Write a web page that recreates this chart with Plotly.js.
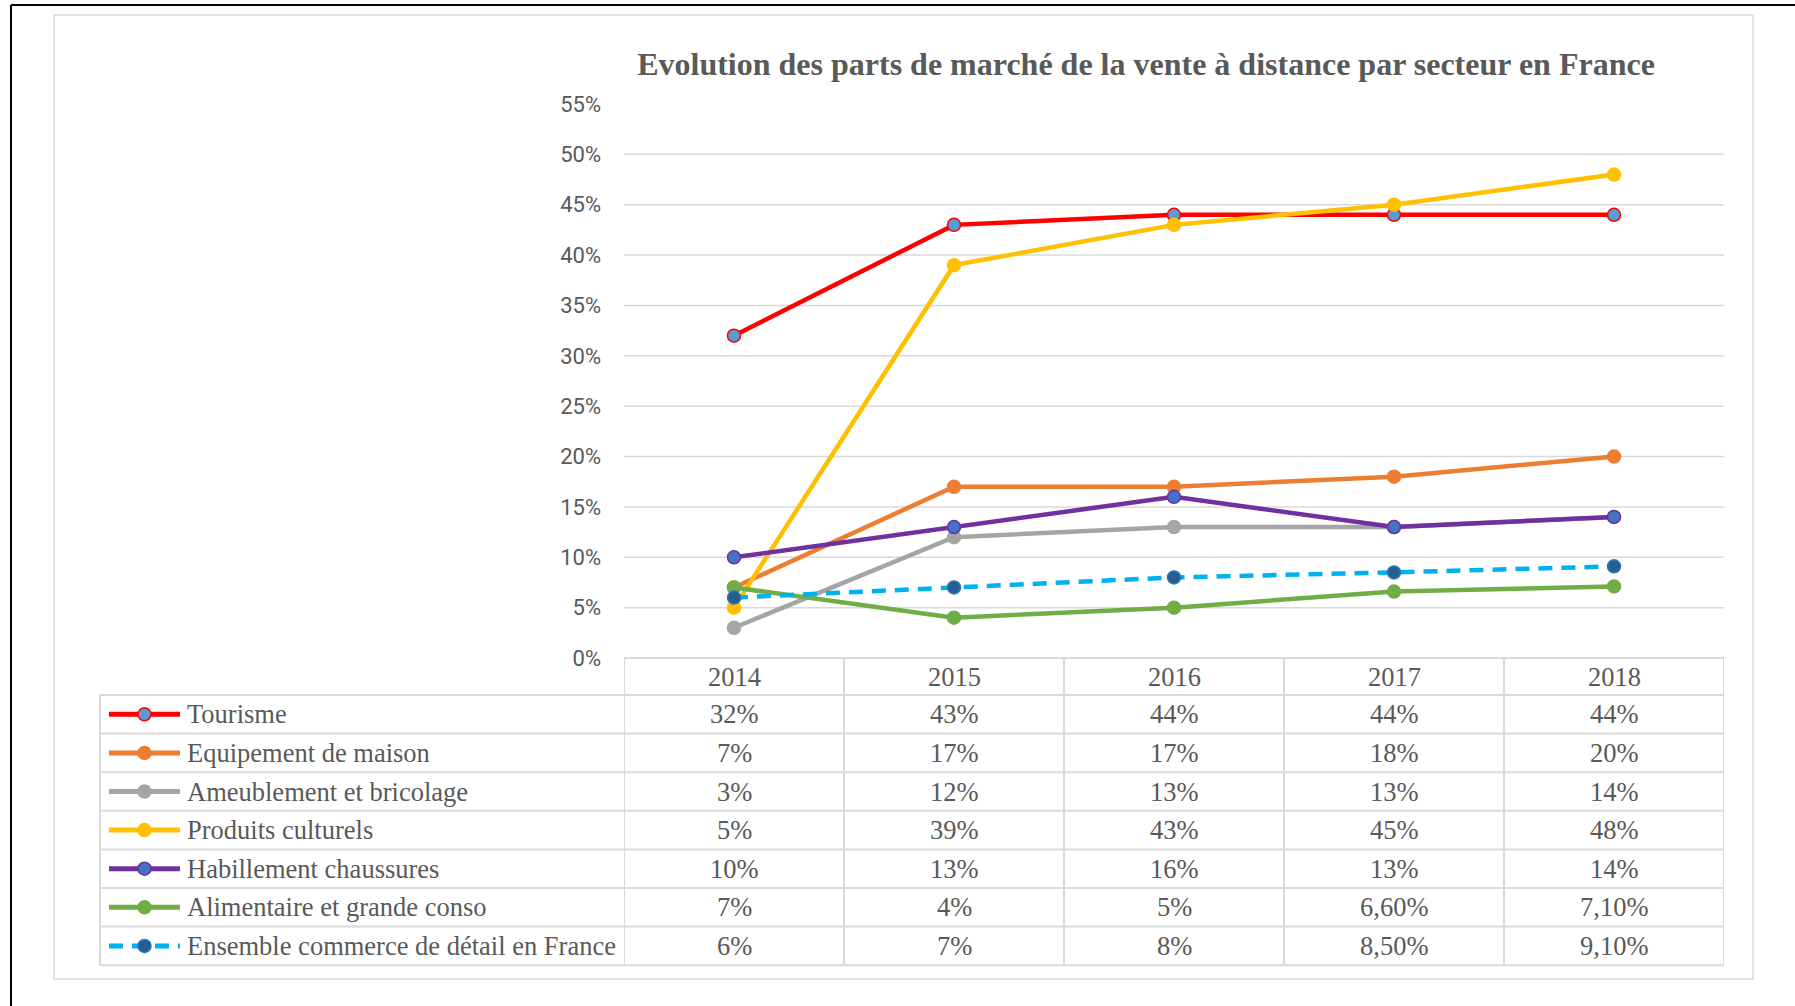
<!DOCTYPE html>
<html><head><meta charset="utf-8">
<script src="https://cdn.plot.ly/plotly-3.0.1.min.js"></script>
<style>html,body{margin:0;padding:0;background:#fff;} #chart{width:1795px;height:1006px;}</style>
</head><body><div id="chart"></div>
<script>
// ---------- data ----------
const years = ['2014', '2015', '2016', '2017', '2018'];
const seriesNames = [
  'Tourisme',
  'Equipement de maison',
  'Ameublement et bricolage',
  'Produits culturels',
  'Habillement chaussures',
  'Alimentaire et grande conso',
  'Ensemble commerce de détail en France'
];
const tourisme    = [32, 43, 44, 44, 44];
const equipement  = [7, 17, 17, 18, 20];
const ameublement = [3, 12, 13, 13, 14];
const produits    = [5, 39, 43, 45, 48];
const habillement = [10, 13, 16, 13, 14];
const alimentaire = [7, 4, 5, 6.6, 7.1];
const ensemble    = [6, 7, 8, 8.5, 9.1];
const yTickValues = [0, 5, 10, 15, 20, 25, 30, 35, 40, 45, 50, 55];
const yTickLabels = ['0%', '5%', '10%', '15%', '20%', '25%', '30%', '35%', '40%', '45%', '50%', '55%'];
const gridValues  = [5, 10, 15, 20, 25, 30, 35, 40, 45, 50];
const chartTitle = 'Evolution des parts de marché de la vente à distance par secteur en France';

// ---------- styling ----------
const W = 1795, H = 1006;
const px = x => x / W;
const py = y => 1 - y / H;
const seriesValues = [tourisme, equipement, ameublement, produits, habillement, alimentaire, ensemble];
const styles = [
  {line: '#FF0000', fill: '#5B9BD5', border: '#FF0000', dash: 'solid'},
  {line: '#ED7D31', fill: '#ED7D31', border: '#ED7D31', dash: 'solid'},
  {line: '#A5A5A5', fill: '#A5A5A5', border: '#A5A5A5', dash: 'solid'},
  {line: '#FFC000', fill: '#FFC000', border: '#FFC000', dash: 'solid'},
  {line: '#7030A0', fill: '#4472C4', border: '#7030A0', dash: 'solid'},
  {line: '#70AD47', fill: '#70AD47', border: '#70AD47', dash: 'solid'},
  {line: '#00B0F0', fill: '#255E91', border: '#2E75B6', dash: '14px,9px'}
];
const textColor = '#595959';
const gridColor = '#D9D9D9';
const serif = 'Liberation Serif, Times New Roman, serif';
const cellFont = {family: serif, size: 26.5, color: textColor};

// plot geometry (pixels)
const plotL = 624, plotR = 1724, plotTop = 104, plotBottom = 658;
const tableTop = 695, rowH = 38.6, tableLeft = 100;
const tableBottom = tableTop + rowH * seriesNames.length;

const fmt = v => Number.isInteger(v) ? v + '%' : v.toFixed(2).replace('.', ',') + '%';

const traces = [];
seriesValues.forEach((vals, i) => {
  const s = styles[i];
  traces.push({
    type: 'scatter', mode: 'lines+markers', name: seriesNames[i],
    x: years, y: vals, xaxis: 'x', yaxis: 'y',
    line: {color: s.line, width: 4.5, dash: s.dash},
    marker: {size: 13, color: s.fill, line: {color: s.border, width: 1.5}},
    cliponaxis: false, hoverinfo: 'skip', showlegend: false
  });
});
// legend keys inside the data table
seriesNames.forEach((n, i) => {
  const s = styles[i];
  traces.push({
    type: 'scatter', mode: 'lines+markers',
    x: [109, 144.5, 180], y: [i, i, i], xaxis: 'x2', yaxis: 'y2',
    line: {color: s.line, width: 5, dash: s.dash === 'solid' ? 'solid' : '14px,9px'},
    marker: {size: 13, color: s.fill, line: {color: s.border, width: 1.5}, opacity: [0, 1, 0]},
    cliponaxis: false, hoverinfo: 'skip', showlegend: false
  });
});

const shapes = [];
// outer black edges
shapes.push({type: 'line', xref: 'paper', yref: 'paper', x0: px(11), x1: 1, y0: py(5), y1: py(5), line: {color: '#000', width: 2}});
shapes.push({type: 'line', xref: 'paper', yref: 'paper', x0: px(11), x1: px(11), y0: py(5), y1: 0, line: {color: '#000', width: 2}});
// chart frame
shapes.push({type: 'rect', xref: 'paper', yref: 'paper', x0: px(54), x1: px(1753), y0: py(15), y1: py(979), line: {color: gridColor, width: 1.5}});
// gridlines
gridValues.forEach(v => shapes.push({type: 'line', layer: 'below', xref: 'paper', yref: 'y', x0: px(plotL), x1: px(plotR), y0: v, y1: v, line: {color: gridColor, width: 1.5}}));
// table: top (axis) line of header
shapes.push({type: 'line', layer: 'below', xref: 'paper', yref: 'paper', x0: px(plotL), x1: px(plotR), y0: py(plotBottom), y1: py(plotBottom), line: {color: gridColor, width: 2}});
// table horizontal lines
for (let k = 0; k <= seriesNames.length; k++) {
  const y = tableTop + k * rowH;
  shapes.push({type: 'line', xref: 'paper', yref: 'paper', x0: px(tableLeft), x1: px(plotR), y0: py(y), y1: py(y), line: {color: gridColor, width: 2}});
}
// table vertical lines
shapes.push({type: 'line', xref: 'paper', yref: 'paper', x0: px(tableLeft), x1: px(tableLeft), y0: py(tableTop), y1: py(tableBottom), line: {color: gridColor, width: 2}});
for (let j = 0; j <= years.length; j++) {
  shapes.push({type: 'line', xref: 'x', yref: 'paper', x0: j - 0.5, x1: j - 0.5, y0: py(plotBottom), y1: py(tableBottom), line: {color: gridColor, width: 2}});
}

const annotations = [];
seriesNames.forEach((n, i) => {
  const yc = py(tableTop + rowH * (i + 0.5));
  annotations.push({xref: 'paper', yref: 'paper', x: px(185), y: yc, xanchor: 'left', yanchor: 'middle', text: n, showarrow: false, font: cellFont});
  seriesValues[i].forEach((v, j) => {
    annotations.push({xref: 'x', yref: 'paper', x: j, y: yc, xanchor: 'center', yanchor: 'middle', text: fmt(v), showarrow: false, font: cellFont});
  });
});
years.forEach((yr, j) => annotations.push({xref: 'x', yref: 'paper', x: j, y: py((plotBottom + tableTop) / 2), xanchor: 'center', yanchor: 'middle', text: yr, showarrow: false, font: cellFont}));

const layout = {
  width: W, height: H,
  margin: {l: 0, r: 0, t: 0, b: 0},
  paper_bgcolor: '#fff', plot_bgcolor: 'rgba(0,0,0,0)',
  showlegend: false,
  title: {text: '<b>' + chartTitle + '</b>', x: px(1146), xanchor: 'center', xref: 'paper', y: py(64), yanchor: 'middle', yref: 'paper', font: {family: serif, size: 32, color: textColor}},
  xaxis: {type: 'category', categoryarray: years, range: [-0.5, 4.5], domain: [px(plotL), px(plotR)], showgrid: false, zeroline: false, showline: false, showticklabels: false, ticks: '', fixedrange: true},
  yaxis: {range: [0, 55], domain: [py(plotBottom), py(plotTop)], tickmode: 'array', tickvals: yTickValues, ticktext: yTickLabels, showgrid: false, zeroline: false, showline: false, ticks: '', ticklabelstandoff: 22, tickfont: {family: 'Roboto, sans-serif', size: 22, color: textColor}, fixedrange: true},
  xaxis2: {domain: [px(tableLeft), px(plotL)], range: [tableLeft, plotL], visible: false, fixedrange: true, anchor: 'y2'},
  yaxis2: {domain: [py(tableBottom), py(tableTop)], range: [seriesNames.length - 0.5, -0.5], visible: false, fixedrange: true, anchor: 'x2'},
  shapes: shapes,
  annotations: annotations
};
Plotly.newPlot('chart', traces, layout, {staticPlot: true, displayModeBar: false});
</script>
</body></html>
